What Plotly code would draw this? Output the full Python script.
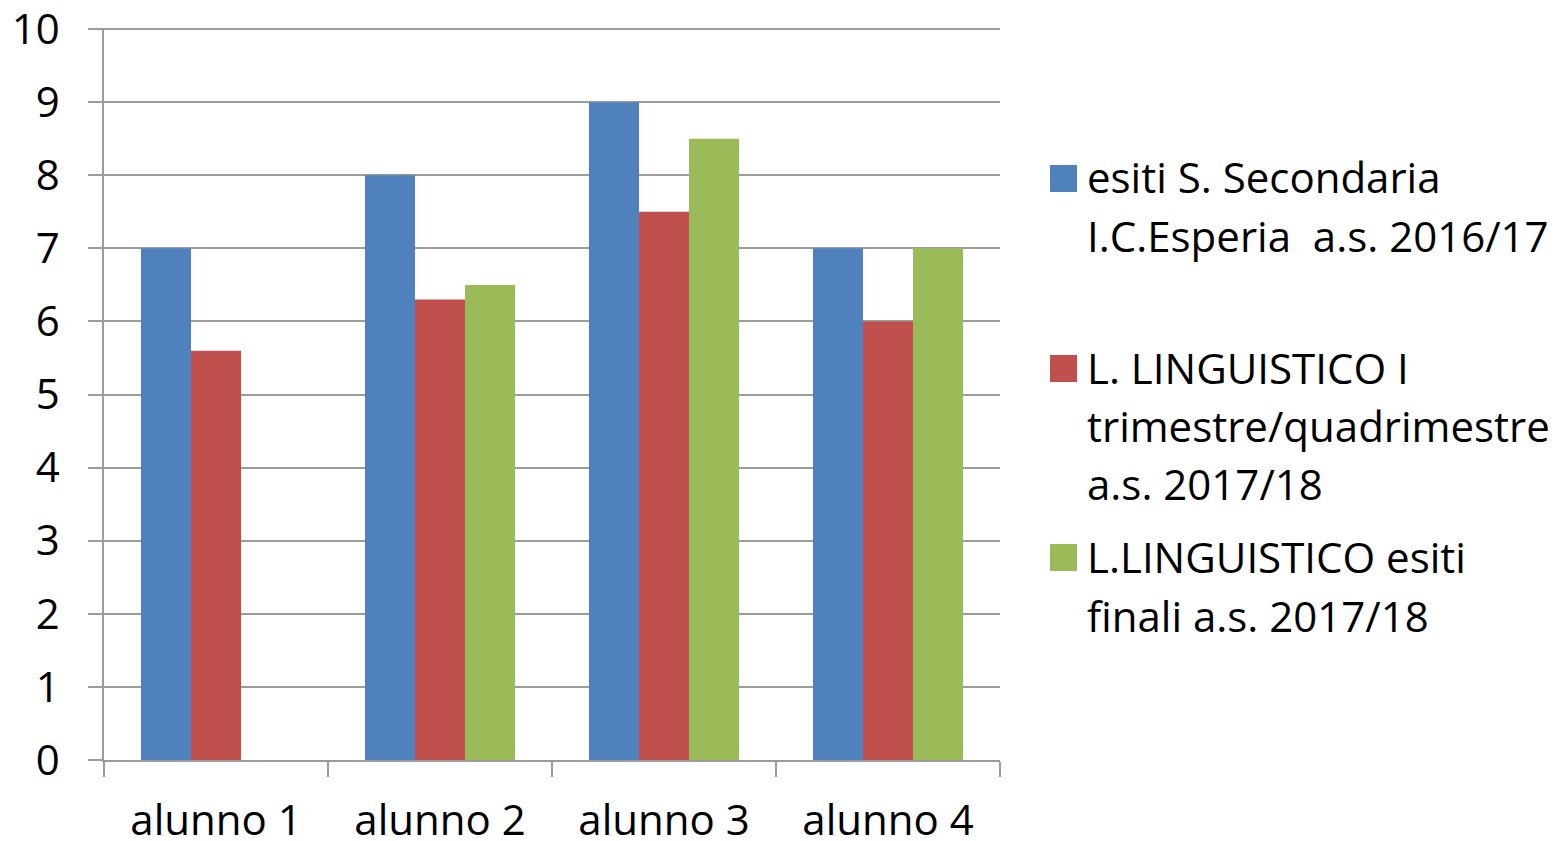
import plotly.graph_objects as go

categories = ["alunno 1", "alunno 2", "alunno 3", "alunno 4"]
series_names = [
    "esiti S. Secondaria<br>I.C.Esperia  a.s. 2016/17",
    "L. LINGUISTICO I<br>trimestre/quadrimestre<br>a.s. 2017/18",
    "L.LINGUISTICO esiti<br>finali a.s. 2017/18",
]
esiti_secondaria = [7, 8, 9, 7]
linguistico_trimestre = [5.6, 6.3, 7.5, 6]
linguistico_finali = [None, 6.5, 8.5, 7]
colors = ["#4F81BD", "#C0504D", "#9BBB59"]
y_ticks = list(range(0, 11))

FONT = "Open Sans"
FS = 42
OFF = 8  # page body margin
W, H = 1556 - OFF, 841 - OFF
L, R, T, B = 104 - OFF, 1000 - OFF, 28 - OFF, 760 - OFF
GRID = "#9C9C9C"


def px_x(vx):
    return (vx - OFF - L) / (R - L)


def px_y(vy):
    return (B - (vy - OFF)) / (B - T)


fig = go.Figure()
for name, vals, col in zip(series_names,
                           [esiti_secondaria, linguistico_trimestre, linguistico_finali],
                           colors):
    fig.add_trace(go.Bar(x=categories, y=vals, name=name.replace("<br>", " "),
                         marker=dict(color=col, line=dict(width=0)),
                         showlegend=False))

fig.update_layout(
    width=W, height=H,
    margin=dict(l=L, r=W - R, t=T, b=H - B, pad=0, autoexpand=False),
    paper_bgcolor="white", plot_bgcolor="white",
    barmode="group", bargap=0.33, bargroupgap=0,
    font=dict(family=FONT, size=FS, color="black"),
)
fig.update_yaxes(
    range=[0, 10.015], tickvals=y_ticks, showgrid=True, gridcolor=GRID, gridwidth=1.5,
    showline=True, linecolor=GRID, linewidth=1.5,
    ticks="outside", ticklen=14, tickcolor=GRID, tickwidth=1.5,
    ticklabelstandoff=20, ticklabeloverflow="allow", zeroline=False, automargin=False,
    tickfont=dict(family=FONT, size=FS, color="black"),
)
fig.update_xaxes(
    showline=True, linecolor=GRID, linewidth=1.5,
    ticks="outside", tickson="boundaries", ticklen=15, tickcolor=GRID, tickwidth=1.5,
    ticklabelstandoff=23, ticklabeloverflow="allow", automargin=False,
    tickfont=dict(family=FONT, size=FS, color="black"),
)

# legend drawn manually (large squares, Excel-like spacing)
legend_line_centers = [[178, 236], [368, 426, 484], [557, 616]]
for name, col, centers in zip(series_names, colors, legend_line_centers):
    lines = name.split("<br>")
    top = centers[0] - 13
    fig.add_shape(type="rect", xref="paper", yref="paper",
                  x0=px_x(1050), x1=px_x(1077), y0=px_y(top + 27), y1=px_y(top),
                  fillcolor=col, line=dict(width=0))
    for line, cy in zip(lines, centers):
        fig.add_annotation(text=line, xref="paper", yref="paper",
                           x=px_x(1085), y=px_y(cy - 1), xanchor="left", yanchor="middle",
                           showarrow=False, font=dict(family=FONT, size=FS, color="black"))

fig.write_html("out.html")
